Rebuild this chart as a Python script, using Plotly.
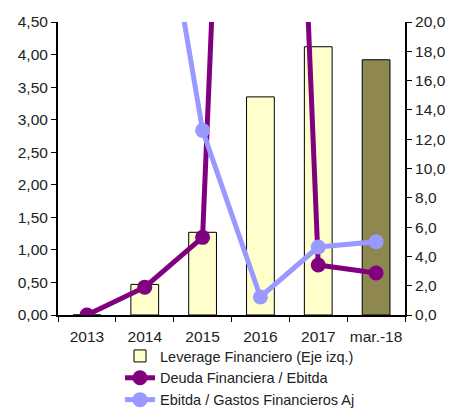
import plotly.graph_objects as go

categories = ["2013", "2014", "2015", "2016", "2017", "mar.-18"]
leverage = [0.0, 0.47, 1.27, 3.35, 4.12, 3.92]
deuda_ebitda = [0.0, 1.9, 5.3, 100.0, 3.41, 2.87]
ebitda_gastos = [None, 36.0, 12.6, 1.23, 4.64, 5.0]
bar_colors = ["#FFFFCC", "#FFFFCC", "#FFFFCC", "#FFFFCC", "#FFFFCC", "#8F8750"]

font_family = "Liberation Sans, Arial, sans-serif"
fs = 15.5

fig = go.Figure()
fig.add_trace(go.Bar(
    x=categories, y=leverage, name="Leverage Financiero (Eje izq.)",
    marker=dict(color=bar_colors, line=dict(color="black", width=1)),
    width=0.48, yaxis="y",
))
fig.add_trace(go.Scatter(
    x=categories, y=deuda_ebitda, name="Deuda Financiera / Ebitda",
    mode="lines+markers", line=dict(color="#800080", width=5),
    marker=dict(color="#800080", size=15), yaxis="y2",
))
fig.add_trace(go.Scatter(
    x=categories, y=ebitda_gastos, name="Ebitda / Gastos Financieros Aj",
    mode="lines+markers", line=dict(color="#9999FF", width=5),
    marker=dict(color="#9999FF", size=15), yaxis="y2",
))

fig.update_layout(
    width=453, height=411,
    margin=dict(l=58, r=48, t=22, b=96, autoexpand=False),
    paper_bgcolor="white", plot_bgcolor="white",
    separators=",.",
    font=dict(family=font_family, size=fs, color="#222"),
    showlegend=True,
    legend=dict(orientation="v", xref="container", x=120/453, xanchor="left",
                yref="container", y=1 - 340/411, yanchor="top",
                font=dict(size=14.5, color="#222"), tracegroupgap=0,
                bgcolor="rgba(0,0,0,0)"),
    xaxis=dict(type="category", showline=True, linecolor="black", linewidth=2,
               ticks="outside", tickson="boundaries", ticklen=5, tickcolor="black",
               showgrid=False, ticklabelstandoff=6, automargin=False, tickangle=0),
    yaxis=dict(range=[0, 4.5], dtick=0.5, tickformat=".2f", showline=True,
               linecolor="black", linewidth=2, ticks="outside", ticklen=5,
               tickcolor="black", showgrid=False, zeroline=False, automargin=False),
    yaxis2=dict(range=[0, 20], dtick=2, tickformat=".1f", overlaying="y", side="right",
                showline=True, linecolor="black", linewidth=2, ticks="outside",
                ticklen=5, tickcolor="black", showgrid=False, zeroline=False,
                automargin=False),
)

fig.write_html("out.html")
